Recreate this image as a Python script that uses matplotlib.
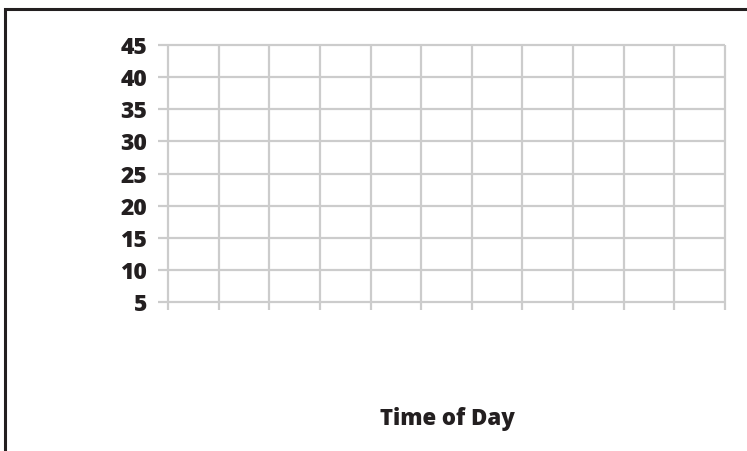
import numpy as np
import matplotlib as mpl
import matplotlib.pyplot as plt
from matplotlib.patches import Rectangle

# chart values
y_ticks = [5, 10, 15, 20, 25, 30, 35, 40, 45]
x_slots = list(range(12))   # unlabelled time columns
x_label = "Time of Day"

grid_color = '#cccccc'
W, H = 747, 451

fig = plt.figure(figsize=(W/100, H/100), dpi=100)

# frame round the worksheet (runs off the right and bottom edges)
fig.patches.append(Rectangle((5/W, -0.1), 1.2, 1 - 9/H + 0.1, transform=fig.transFigure,
                             fill=False, edgecolor='#231f20', linewidth=2.2))

# axes placed in pixels
ax_left, ax_right, ax_top, ax_bot = 158, 725, 45, 310
ax = fig.add_axes([ax_left/W, 1 - ax_bot/H, (ax_right-ax_left)/W, (ax_bot-ax_top)/H])

x_lo = x_slots[0] - 10/50.55
y_lo = y_ticks[0] - 8/6.425
ax.set_xlim(x_lo, x_slots[-1])
ax.set_ylim(y_lo, y_ticks[-1])

ax.hlines(y_ticks, x_lo, x_slots[-1], colors=grid_color, linewidth=1.6, clip_on=False)
ax.vlines(x_slots, y_lo, y_ticks[-1], colors=grid_color, linewidth=1.6, clip_on=False)

for s in ax.spines.values():
    s.set_visible(False)
ax.set_xticks([])
ax.set_yticks(y_ticks)
ax.set_yticklabels([str(v) for v in y_ticks], fontfamily='Open Sans', fontweight='heavy',
                   fontsize=16.5, color='#231f20')
ax.tick_params(axis='y', length=0, pad=8)

fig.text(447/W, 1 - 419/H, x_label, ha='center', va='center', fontfamily='Open Sans',
         fontweight='heavy', fontsize=16, color='#231f20')

fig.savefig('out.png', dpi=100)
